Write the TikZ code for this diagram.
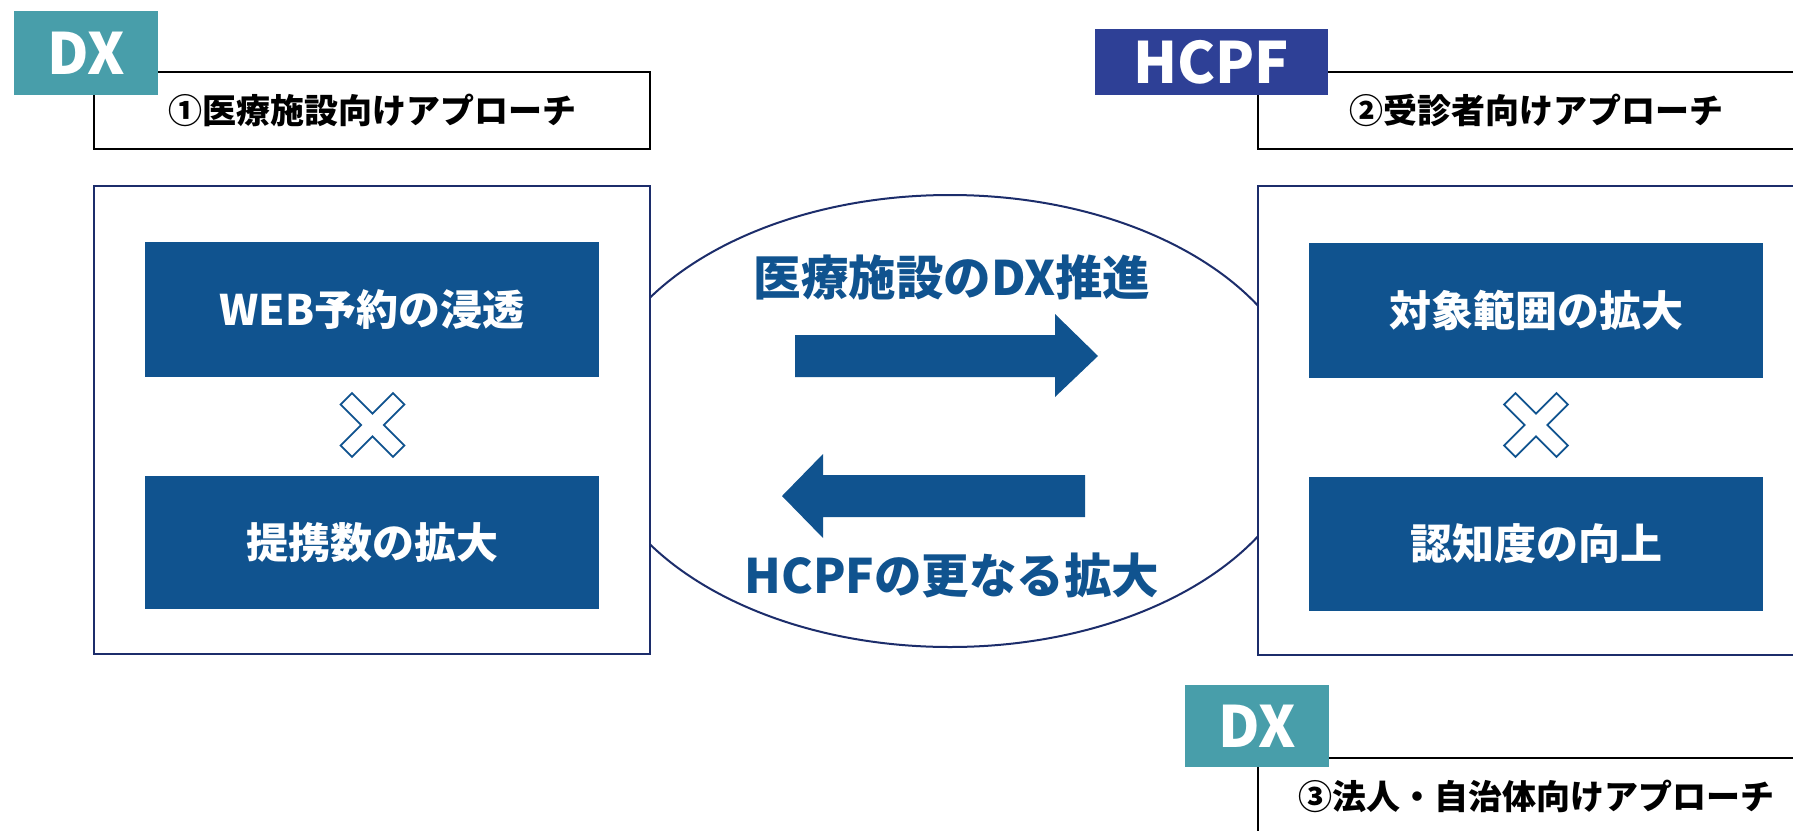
\documentclass[tikz,border=0pt]{standalone}
\usepackage{fontspec}
\newfontfamily\jp{Noto Sans CJK JP}
\usetikzlibrary{shapes.geometric}
\definecolor{teal}{HTML}{489EAA}
\definecolor{royal}{HTML}{2E4096}
\definecolor{deepblue}{HTML}{10538F}
\definecolor{navy}{HTML}{1C2D6B}
\tikzset{
  tag/.style={inner sep=0, text=white, font=\jp\bfseries\fontsize{57}{62}\selectfont},
  titlebox/.style={draw=black, line width=2pt, fill=white, minimum width=556, minimum height=77, inner sep=0,
    font=\jp\bfseries\fontsize{34}{39}\selectfont},
  frame/.style={draw=navy, line width=2.5pt, fill=white, minimum width=556, inner sep=0},
  item/.style={fill=deepblue, text=white, minimum width=454, inner sep=0,
    font=\jp\bfseries\fontsize{42}{47}\selectfont},
  flowtext/.style={text=deepblue, inner sep=0, font=\jp\bfseries\fontsize{47.5}{52}\selectfont},
  crossmark/.style={draw=deepblue, fill=white, line width=1.8pt, line join=miter},
  bigarrow/.style={fill=deepblue}
}
\newcommand{\crossat}[1]{%
  \draw[crossmark, shift={(#1)}, rotate=45]
    (-8,-37) -- (8,-37) -- (8,-8) -- (37,-8) -- (37,8) -- (8,8) -- (8,37)
    -- (-8,37) -- (-8,8) -- (-37,8) -- (-37,-8) -- (-8,-8) -- cycle;}
\begin{document}
\begin{tikzpicture}[x=1pt,y=-1pt]
\useasboundingbox (0,0) rectangle (1793,830);
\fill[white] (0,0) rectangle (1793,830);

% central exchange ellipse
\node[ellipse, draw=navy, line width=2pt, minimum width=716, minimum height=452, inner sep=0] (ring) at (950,421) {};

% left column: medical facilities
\node[frame, minimum height=468] (leftframe) at (372,420) {};
\node[item, minimum height=135] (web) at (372,309.5) {WEB予約の浸透};
\coordinate (crossL) at (372.5,425);
\crossat{crossL}
\node[item, minimum height=133] (partner) at (372,542.5) {提携数の拡大};
\node[titlebox] (title1) at (372,110.5) {①医療施設向けアプローチ};
\node[tag, fill=teal, minimum width=144, minimum height=84] (dxA) at (86,53) {DX};

% right column: patients
\node[frame, minimum height=469] (rightframe) at (1536,420.5) {};
\node[item, minimum height=135] (scope) at (1536,310.5) {対象範囲の拡大};
\coordinate (crossR) at (1536,425);
\crossat{crossR}
\node[item, minimum height=134] (aware) at (1536,544) {認知度の向上};
\node[titlebox] (title2) at (1536,110.5) {②受診者向けアプローチ};
\node[tag, fill=royal, minimum width=233, minimum height=66] (hcpf) at (1211.5,62) {HCPF};

% bottom right: corporations and municipalities
\node[titlebox] (title3) at (1536,796.5) {③法人・自治体向けアプローチ};
\node[tag, fill=teal, minimum width=144, minimum height=82] (dxB) at (1257,726) {DX};

% exchange arrows and captions
\node[flowtext] (toptext) at (952,277) {医療施設のDX推進};
\fill[bigarrow] (795,335) -- (1055,335) -- (1055,314) -- (1098,356) -- (1055,397) -- (1055,377) -- (795,377) -- cycle;
\fill[bigarrow] (1085,475) -- (823,475) -- (823,454) -- (782,496) -- (823,538) -- (823,517) -- (1085,517) -- cycle;
\node[flowtext] (bottomtext) at (952,575) {HCPFの更なる拡大};
\end{tikzpicture}
\end{document}
